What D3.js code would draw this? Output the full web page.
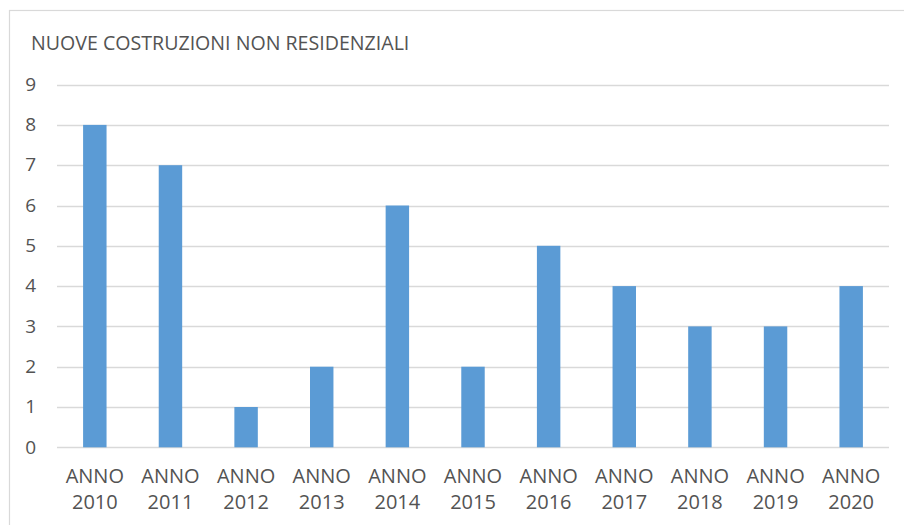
<!DOCTYPE html>
<html>
<head>
<meta charset="utf-8">
<script src="https://cdn.jsdelivr.net/npm/d3@7/dist/d3.min.js"></script>
<style>
  html, body { margin: 0; padding: 0; background: #fff; }
  svg { display: block; }
</style>
</head>
<body>
<svg id="chart" width="904" height="525"></svg>
<script>
// Nuove costruzioni non residenziali, per anno
const categories = ["ANNO 2010", "ANNO 2011", "ANNO 2012", "ANNO 2013", "ANNO 2014", "ANNO 2015",
                    "ANNO 2016", "ANNO 2017", "ANNO 2018", "ANNO 2019", "ANNO 2020"];
const values = [8, 7, 1, 2, 6, 2, 5, 4, 3, 3, 4];
const yTicks = [0, 1, 2, 3, 4, 5, 6, 7, 8, 9];
const title = "NUOVE COSTRUZIONI NON RESIDENZIALI";

const svg = d3.select("#chart");
const font = "'Open Sans', 'Noto Sans', sans-serif";
const textColor = "#535353";

// chart frame
svg.append("rect")
  .attr("x", 9.5).attr("y", 10.5)
  .attr("width", 904).attr("height", 530)
  .attr("fill", "#fff")
  .attr("stroke", "#D9D9D9").attr("stroke-width", 1.2);

const plot = { left: 57, right: 889, top: 84.6, bottom: 447.3 };

const x = d3.scaleBand()
  .domain(categories)
  .range([plot.left, plot.right])
  .paddingInner(0.69)
  .paddingOuter(0.345);

const y = d3.scaleLinear()
  .domain([0, 9])
  .range([plot.bottom, plot.top]);

// gridlines
svg.append("g")
  .selectAll("line")
  .data(yTicks)
  .join("line")
  .attr("x1", plot.left).attr("x2", plot.right)
  .attr("y1", d => Math.round(y(d)) + 0.5)
  .attr("y2", d => Math.round(y(d)) + 0.5)
  .attr("stroke", "#D9D9D9").attr("stroke-width", 1.3);

// y axis labels
const yAxis = d3.axisLeft(y).tickValues(yTicks).tickSize(0).tickPadding(0);
const gy = svg.append("g").attr("transform", "translate(36,0)").call(yAxis);
gy.select(".domain").remove();
gy.selectAll("text")
  .attr("font-family", font).attr("font-size", 19)
  .attr("fill", textColor).attr("dy", "0.3em");

// bars
svg.append("g")
  .selectAll("rect")
  .data(values)
  .join("rect")
  .attr("x", (d, i) => x(categories[i]))
  .attr("width", x.bandwidth())
  .attr("y", d => y(d))
  .attr("height", d => y(0) - y(d))
  .attr("fill", "#5B9BD5");

// category labels on two lines
const xAxis = d3.axisBottom(x).tickSize(0).tickFormat("");
const gx = svg.append("g").attr("transform", `translate(0,${plot.bottom})`).call(xAxis);
gx.select(".domain").remove();
gx.selectAll(".tick").each(function (d) {
  const parts = d.split(" ");
  const t = d3.select(this).append("text")
    .attr("text-anchor", "middle")
    .attr("font-family", font).attr("font-size", 20)
    .attr("fill", textColor);
  t.append("tspan").attr("x", 0).attr("y", 35.5).text(parts[0]);
  t.append("tspan").attr("x", 0).attr("y", 61.5).text(parts[1]);
});

// title
svg.append("text")
  .attr("x", 31).attr("y", 49.5)
  .attr("font-family", font).attr("font-size", 19.6)
  .attr("fill", textColor)
  .text(title);
</script>
</body>
</html>
